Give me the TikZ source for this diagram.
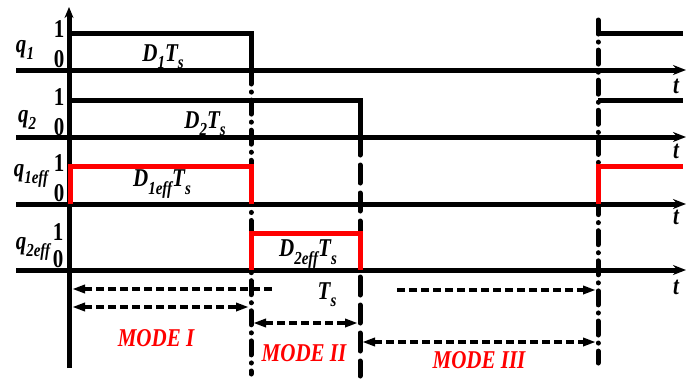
\documentclass[tikz,border=0pt]{standalone}
\usepackage{fontspec}
\setmainfont{Liberation Serif}
\usetikzlibrary{arrows.meta}
\definecolor{myred}{RGB}{255,0,0}
\newcommand\vst[1]{\scalebox{1}[1.22]{#1}}
\newcommand\sbs[1]{\raisebox{-0.28em}{\fontsize{15}{15}\selectfont #1}}
\tikzset{
  axisline/.style={line width=5pt, -{Stealth[length=13pt,width=10pt]}},
  sig/.style={line width=5pt, line join=miter},
  redsig/.style={sig, draw=myred},
  dashdot/.style={line width=5pt, line cap=round, dash pattern=on 14pt off 8pt on 0.1pt off 8pt},
  dashln/.style={line width=5pt, line cap=round, dash pattern=on 18pt off 10pt},
  dimline/.style={line width=3.8pt, dash pattern=on 8pt off 4pt},
  tipend/.style={-{Triangle[length=13pt,width=8pt]}},
  tipboth/.style={{Triangle[length=13pt,width=8pt]}-{Triangle[length=13pt,width=8pt]}},
  lab/.style={font=\fontsize{21}{23}\selectfont\bfseries\itshape, inner sep=0pt},
  num/.style={font=\fontsize{21}{23}\selectfont\bfseries, inner sep=0pt},
  modelab/.style={lab, text=myred},
}
\begin{document}
\begin{tikzpicture}[x=1pt,y=-1pt]
\useasboundingbox (0,0) rectangle (693,378);
% coordinates
\coordinate (a1s) at (16,70);  \coordinate (a1e) at (686,70);
\coordinate (a2s) at (16,137); \coordinate (a2e) at (686,137);
\coordinate (a3s) at (16,204); \coordinate (a3e) at (686,204);
\coordinate (a4s) at (16,270); \coordinate (a4e) at (686,270);
\coordinate (vb) at (69,368); \coordinate (vt) at (69,7);
% time axes
\draw[axisline] (a1s) -- (a1e);
\draw[axisline] (a2s) -- (a2e);
\draw[axisline] (a3s) -- (a3e);
\draw[axisline] (a4s) -- (a4e);
\draw[line width=5pt, -{Stealth[length=11pt,width=9pt]}] (vb) -- (vt);
% dashed verticals
\coordinate (d1t) at (251,70);  \coordinate (d1b) at (251,374);
\coordinate (d2t) at (360,137); \coordinate (d2b) at (360,376);
\coordinate (d3t) at (598,20);  \coordinate (d3b) at (598,363);
\draw[dashdot] (d1t) -- (d1b);
\draw[dashln] (d2t) -- (d2b);
\draw[dashdot] (d3t) -- (d3b);
% black signals
\draw[sig] (69,33) -- (251,33) -- (251,70);
\draw[sig] (69,100) -- (360,100) -- (360,137);
\draw[sig] (598,33) -- (683,33);
\draw[sig] (598,100) -- (683,100);
% red signals
\draw[redsig] (70,204) -- (70,166) -- (251,166) -- (251,204);
\draw[redsig] (251,270) -- (251,233) -- (360,233) -- (360,270);
\draw[redsig] (598,204) -- (598,166) -- (683,166);
% dimension arrows
\coordinate (ta1) at (272,289); \coordinate (ta2) at (72,289);
\coordinate (tb1) at (397,290); \coordinate (tb2) at (596,290);
\coordinate (m1a) at (72,307);  \coordinate (m1b) at (249,307);
\coordinate (m2a) at (253,323); \coordinate (m2b) at (358,323);
\coordinate (m3a) at (362,342); \coordinate (m3b) at (596,342);
\draw[dimline, tipend] (ta1) -- (ta2);
\draw[dimline, tipend] (tb1) -- (tb2);
\draw[dimline, tipboth] (m1a) -- (m1b);
\draw[dimline, tipboth] (m2a) -- (m2b);
\draw[dimline, tipboth] (m3a) -- (m3b);
% labels
\node[lab] (q1) at (25,50) {\vst{q\sbs{1}}};
\node[num] (q1h) at (59,29) {\vst{1}};
\node[num] (q1l) at (59,59) {\vst{0}};
\node[lab] (d1) at (163,57) {\vst{D\sbs{1}T\sbs{s}}};
\node[lab] (q2) at (27,120) {\vst{q\sbs{2}}};
\node[num] (q2h) at (59,97) {\vst{1}};
\node[num] (q2l) at (59,127) {\vst{0}};
\node[lab] (d2) at (205,124) {\vst{D\sbs{2}T\sbs{s}}};
\node[lab] (q3) at (31,176) {\vst{q\sbs{1eff}}};
\node[num] (q3h) at (59,163) {\vst{1}};
\node[num] (q3l) at (59,193) {\vst{0}};
\node[lab] (d3) at (162,184) {\vst{D\sbs{1eff}T\sbs{s}}};
\node[lab] (q4) at (33,249) {\vst{q\sbs{2eff}}};
\node[num] (q4h) at (58,232) {\vst{1}};
\node[num] (q4l) at (58,259) {\vst{0}};
\node[lab] (d4) at (308,254) {\vst{D\sbs{2eff}T\sbs{s}}};
\node[lab] (ts) at (327,295) {\vst{T\sbs{s}}};
\node[lab] (t1) at (676,86) {\vst{t}};
\node[lab] (t2) at (676,151) {\vst{t}};
\node[lab] (t3) at (676,217) {\vst{t}};
\node[lab] (t4) at (676,287) {\vst{t}};
\node[modelab] (mode1) at (156,338) {\vst{MODE I}};
\node[modelab] (mode2) at (304,353) {\vst{MODE II}};
\node[modelab] (mode3) at (479,360) {\vst{MODE III}};
\end{tikzpicture}
\end{document}
